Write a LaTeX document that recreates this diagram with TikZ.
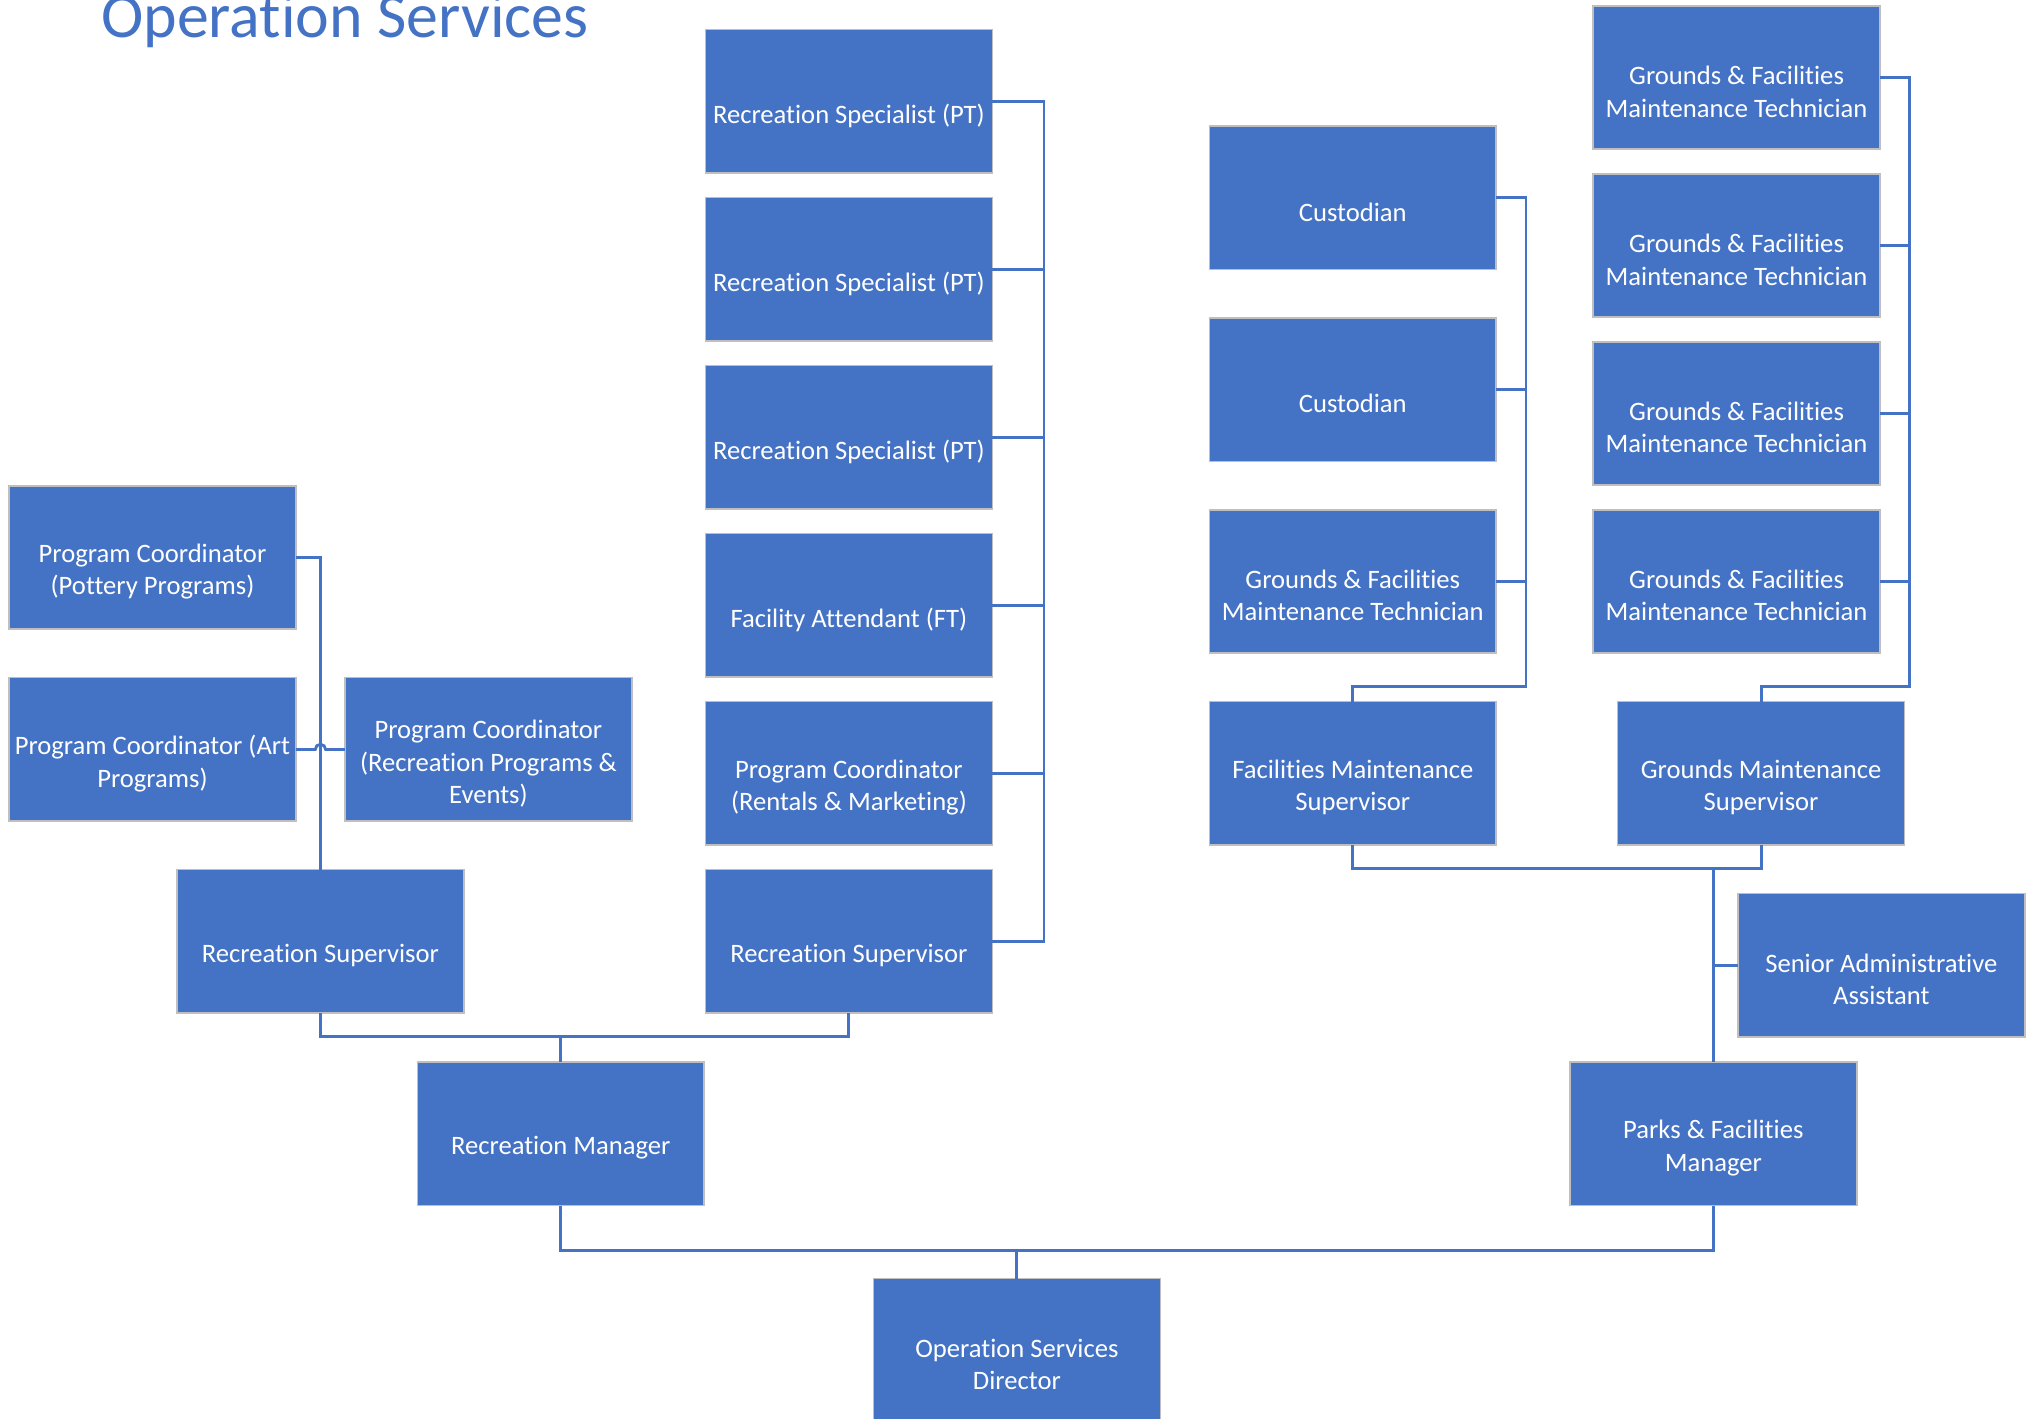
\documentclass[tikz,border=0pt]{standalone}
\usepackage{fontspec}
\setmainfont{Carlito}[Ligatures=NoCommon]
\usetikzlibrary{calc}
\definecolor{boxblue}{HTML}{4472C4}
\definecolor{boxedge}{HTML}{BFBFBF}
\tikzset{
  orgbox/.style={rectangle, fill=boxblue, draw=boxedge, line width=0.6pt,
    minimum width=111pt, minimum height=55.5pt, inner sep=0pt, outer sep=0pt},
  boxtext/.style={text=white, font=\fontsize{10.3}{12.5}\selectfont,
    align=center, yshift=-5.5pt, inner sep=0pt},
  conn/.style={draw=boxblue, line width=1.1pt},
  titletext/.style={text=boxblue, font=\fontsize{24.7}{28}\selectfont, inner sep=0pt, anchor=base west}
}
\begin{document}
\begin{tikzpicture}[x=0.5pt, y=-0.5pt]
\clip (0,0) rectangle (1568,1098);
\fill[white] (0,0) rectangle (1568,1098);

\node[titletext] (title) at (78,29) {Operation Services};

% Recreation column
\node[orgbox, label={[boxtext]center:Recreation Specialist (PT)}] (rs1) at (657,78.5) {};
\node[orgbox, label={[boxtext]center:Recreation Specialist (PT)}] (rs2) at (657,208.5) {};
\node[orgbox, label={[boxtext]center:Recreation Specialist (PT)}] (rs3) at (657,338.5) {};
\node[orgbox, label={[boxtext]center:Facility Attendant (FT)}] (fa) at (657,468.5) {};
\node[orgbox, label={[boxtext]center:{Program Coordinator\\(Rentals \& Marketing)}}] (pcrm) at (657,598.5) {};
\node[orgbox, label={[boxtext]center:Recreation Supervisor}] (rsupR) at (657,728.5) {};

% Left group
\node[orgbox, label={[boxtext]center:{Program Coordinator\\(Pottery Programs)}}] (pot) at (118,431.5) {};
\node[orgbox, label={[boxtext]center:{Program Coordinator (Art\\Programs)}}] (art) at (118,580) {};
\node[orgbox, label={[boxtext]center:{Program Coordinator\\(Recreation Programs \&\\Events)}}] (pcre) at (378,580) {};
\node[orgbox, label={[boxtext]center:Recreation Supervisor}] (rsupL) at (248,728.5) {};

\node[orgbox, label={[boxtext]center:Recreation Manager}] (rmgr) at (434,877.5) {};
\node[orgbox, label={[boxtext]center:{Operation Services\\Director}}] (dir) at (787,1045) {};

% Facilities column
\node[orgbox, label={[boxtext]center:Custodian}] (cust1) at (1047,153) {};
\node[orgbox, label={[boxtext]center:Custodian}] (cust2) at (1047,301.5) {};
\node[orgbox, label={[boxtext]center:{Grounds \& Facilities\\Maintenance Technician}}] (gfl) at (1047,450) {};
\node[orgbox, label={[boxtext]center:{Facilities Maintenance\\Supervisor}}] (fms) at (1047,598.5) {};

% Grounds column
\node[orgbox, label={[boxtext]center:{Grounds \& Facilities\\Maintenance Technician}}] (g1) at (1344,60) {};
\node[orgbox, label={[boxtext]center:{Grounds \& Facilities\\Maintenance Technician}}] (g2) at (1344,190) {};
\node[orgbox, label={[boxtext]center:{Grounds \& Facilities\\Maintenance Technician}}] (g3) at (1344,320) {};
\node[orgbox, label={[boxtext]center:{Grounds \& Facilities\\Maintenance Technician}}] (g4) at (1344,450) {};
\node[orgbox, label={[boxtext]center:{Grounds Maintenance\\Supervisor}}] (gms) at (1363,598.5) {};

\node[orgbox, label={[boxtext]center:{Senior Administrative\\Assistant}}] (saa) at (1456,747) {};
\node[orgbox, label={[boxtext]center:{Parks \& Facilities\\Manager}}] (pfm) at (1326,877.5) {};

% bus coordinates
\coordinate (busA) at (808,0);
\coordinate (busL) at (0,802);
\coordinate (busF) at (1181,531);
\coordinate (busG) at (1478,531);
\coordinate (busP) at (1326,672);
\coordinate (busD) at (787,968);

% Recreation column connectors
\draw[conn] (rsupR.east) -- (rsupR.east -| busA) -- (rs1.east -| busA) -- (rs1.east);
\foreach \n in {rs2,rs3,fa,pcrm} \draw[conn] (\n.east) -- (\n.east -| busA);

% Left group connectors
\draw[conn] (rsupL.north) -- (rsupL.north |- pot.east) -- (pot.east);
\draw[conn] (art.east) -- ([xshift=-2pt]art.east -| rsupL.north) arc[start angle=180, end angle=0, radius=2pt] -- (pcre.west);
\draw[conn] (rsupL.south) -- (rsupL.south |- busL) -- (rsupR.south |- busL) -- (rsupR.south);
\draw[conn] (rmgr.north) -- (rmgr.north |- busL);

% Director connectors
\draw[conn] (rmgr.south) |- (busD) -| (pfm.south);
\draw[conn] (dir.north) -- (busD);

% Facilities connectors
\draw[conn] (fms.north) |- (busF) -- (busF |- cust1.east) -- (cust1.east);
\foreach \n in {cust2,gfl} \draw[conn] (\n.east) -- (\n.east -| busF);

% Grounds connectors
\draw[conn] (gms.north) |- (busG) -- (busG |- g1.east) -- (g1.east);
\foreach \n in {g2,g3,g4} \draw[conn] (\n.east) -- (\n.east -| busG);

% Parks manager connectors
\draw[conn] (fms.south) -- (fms.south |- busP) -- (gms.south |- busP) -- (gms.south);
\draw[conn] (busP) -- (pfm.north);
\draw[conn] (saa.west) -- (saa.west -| pfm.north);
\end{tikzpicture}
\end{document}
